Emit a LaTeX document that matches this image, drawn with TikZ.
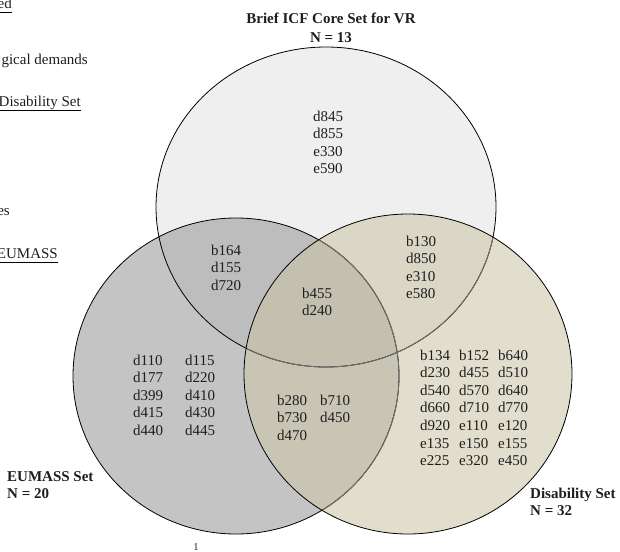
\documentclass[tikz,border=0pt]{standalone}
\usepackage{fontspec}
\setmainfont{Liberation Serif}
\definecolor{cTop}{HTML}{EFEFEF}
\definecolor{cLeft}{HTML}{C4C4C4}
\definecolor{cRight}{HTML}{E2DECD}
\definecolor{cTL}{HTML}{BDBDBD}
\definecolor{cTR}{HTML}{DAD7C7}
\definecolor{cLR}{HTML}{C8C5B5}
\definecolor{cTLR}{HTML}{C3C0B0}
\definecolor{txtc}{HTML}{1E1E1E}
\begin{document}
\begin{tikzpicture}[x=1pt,y=-1pt,
  txt/.style={inner sep=0pt, font=\fontsize{15}{17.6}\selectfont, text=txtc},
  lbl/.style={inner sep=0pt, font=\fontsize{15}{17.6}\selectfont\bfseries, text=txtc},
  outl/.style={draw=black, line width=0.8pt},
  inl/.style={draw=black!55, line width=0.8pt},
  uline/.style={draw=black, line width=0.7pt}]
\useasboundingbox (0,0) rectangle (620,551);
% fills
\fill[cTop] (326,207) ellipse [x radius=170pt, y radius=160pt];
\fill[cLeft] (236,376) ellipse [x radius=163pt, y radius=158pt];
\fill[cRight] (408,374) ellipse [x radius=164pt, y radius=160pt];
\begin{scope}
  \clip (326,207) ellipse [x radius=170pt, y radius=160pt];
  \fill[cTL] (236,376) ellipse [x radius=163pt, y radius=158pt];
  \fill[cTR] (408,374) ellipse [x radius=164pt, y radius=160pt];
\end{scope}
\begin{scope}
  \clip (236,376) ellipse [x radius=163pt, y radius=158pt];
  \fill[cLR] (408,374) ellipse [x radius=164pt, y radius=160pt];
  \clip (326,207) ellipse [x radius=170pt, y radius=160pt];
  \fill[cTLR] (408,374) ellipse [x radius=164pt, y radius=160pt];
\end{scope}
% outlines
\draw[outl] (326,207) ellipse [x radius=170pt, y radius=160pt];
\draw[outl] (236,376) ellipse [x radius=163pt, y radius=158pt];
\draw[outl] (408,374) ellipse [x radius=164pt, y radius=160pt];
\begin{scope}
  \clip (408,374) ellipse [x radius=163.4pt, y radius=159.4pt];
  \draw[inl] (236,376) ellipse [x radius=163pt, y radius=158pt];
  \draw[inl] (326,207) ellipse [x radius=170pt, y radius=160pt];
\end{scope}
% set labels
\node[lbl, anchor=base] (title) at (331,24) {Brief ICF Core Set for VR};
\node[lbl, anchor=base] (n13) at (331,42) {N = 13};
\node[lbl, anchor=base west] (eum) at (7,481) {EUMASS Set};
\node[lbl, anchor=base west] (n20) at (7,498) {N = 20};
\node[lbl, anchor=base west] (dis) at (530,498) {Disability Set};
\node[lbl, anchor=base west] (n32) at (530,515) {N = 32};
% region contents
\node[txt, anchor=base] (topOnly) at (328,121)
  {\begin{tabular}[t]{@{}c@{}}d845\\d855\\e330\\e590\end{tabular}};
\node[txt, anchor=base] (topLeft) at (226,255)
  {\begin{tabular}[t]{@{}c@{}}b164\\d155\\d720\end{tabular}};
\node[txt, anchor=base] (triple) at (317,298)
  {\begin{tabular}[t]{@{}c@{}}b455\\d240\end{tabular}};
\node[txt, anchor=base west] (topRight) at (406,246)
  {\begin{tabular}[t]{@{}l@{}}b130\\d850\\e310\\e580\end{tabular}};
\node[txt, anchor=base west] (leftOnly) at (133,365)
  {\begin{tabular}[t]{@{}l@{\hspace{22pt}}l@{}}d110&d115\\d177&d220\\d399&d410\\d415&d430\\d440&d445\end{tabular}};
\node[txt, anchor=base west] (leftRight) at (277,405)
  {\begin{tabular}[t]{@{}l@{\hspace{13pt}}l@{}}b280&b710\\b730&d450\\d470&\end{tabular}};
\node[txt, anchor=base west] (rightOnly) at (420,360)
  {\begin{tabular}[t]{@{}l@{\hspace{9pt}}l@{\hspace{9pt}}l@{}}b134&b152&b640\\d230&d455&d510\\d540&d570&d640\\d660&d710&d770\\d920&e110&e120\\e135&e150&e155\\e225&e320&e450\end{tabular}};
% page number
\node[inner sep=0pt, font=\fontsize{10.5}{12}\selectfont, text=txtc, anchor=base] (pg) at (196,550) {1};
% cut-off text at the left edge
\node[txt, anchor=base east] (l1) at (12,9) {ed};
\draw[uline] ([yshift=-3pt]l1.base west) -- ([yshift=-3pt]l1.base east);
\node[txt, anchor=base east] (l2) at (88,64) {gical demands};
\node[txt, anchor=base east] (l3) at (81,106) {Disability Set};
\draw[uline] ([yshift=-4pt]l3.base west) -- ([yshift=-4pt]l3.base east);
\node[txt, anchor=base east] (l4) at (10,215) {es};
\node[txt, anchor=base east] (l5) at (58,258) {EUMASS};
\draw[uline] ([yshift=-4pt]l5.base west) -- ([yshift=-4pt]l5.base east);
\end{tikzpicture}
\end{document}
